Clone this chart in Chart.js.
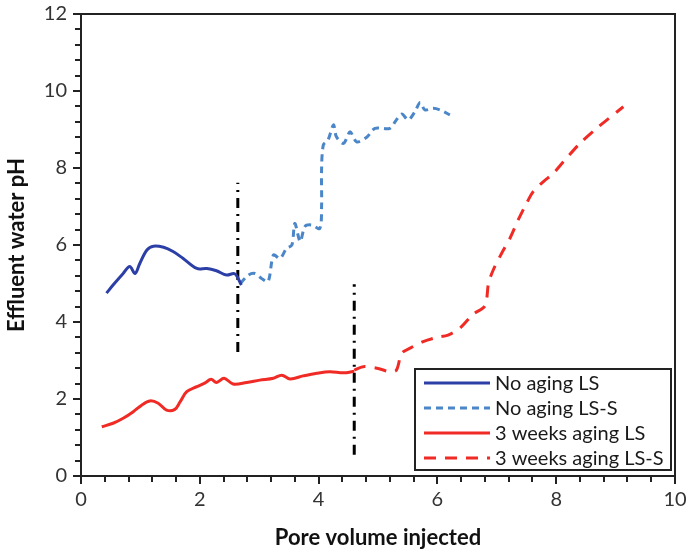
<!DOCTYPE html>
<html>
<head>
<meta charset="utf-8">
<script src="https://cdn.jsdelivr.net/npm/chart.js@4.4.1/dist/chart.umd.min.js"></script>
<style>
  html, body { margin: 0; padding: 0; background: #fff; }
  #wrap { width: 689px; height: 555px; position: relative; }
</style>
</head>
<body>
<div id="wrap"><canvas id="c" width="689" height="555"></canvas></div>
<script>
// ---- Data ----
const seriesLabels = ["No aging LS", "No aging LS-S", "3 weeks aging LS", "3 weeks aging LS-S"];

const noAgingLS_x = [0.43, 0.54, 0.71, 0.82, 0.91, 0.99, 1.11, 1.22, 1.39, 1.55, 1.72, 1.95, 2.12, 2.28, 2.45, 2.59, 2.70];
const noAgingLS_y = [4.75, 4.96, 5.26, 5.44, 5.26, 5.52, 5.87, 5.97, 5.94, 5.83, 5.65, 5.39, 5.39, 5.33, 5.22, 5.25, 4.96];

const noAgingLSS_x = [2.68, 2.82, 2.93, 3.04, 3.15, 3.24, 3.35, 3.46, 3.55, 3.60, 3.69, 3.77, 3.88, 4.02, 4.05, 4.05, 4.08, 4.16, 4.25, 4.30, 4.42, 4.53, 4.64, 4.81, 4.95, 5.20, 5.31, 5.40, 5.51, 5.62, 5.71, 5.79, 5.93, 6.04, 6.21];
const noAgingLSS_y = [5.00, 5.22, 5.26, 5.13, 5.05, 5.74, 5.65, 5.91, 6.00, 6.56, 6.09, 6.48, 6.52, 6.43, 7.00, 7.95, 8.60, 8.73, 9.12, 8.81, 8.64, 8.94, 8.68, 8.80, 9.03, 9.03, 9.25, 9.40, 9.25, 9.46, 9.70, 9.51, 9.55, 9.51, 9.38];

const weeks3LS_x = [0.35, 0.54, 0.71, 0.88, 1.02, 1.16, 1.30, 1.44, 1.58, 1.67, 1.78, 1.95, 2.09, 2.19, 2.28, 2.41, 2.56, 2.79, 3.01, 3.24, 3.38, 3.52, 3.74, 3.97, 4.19, 4.42, 4.60];
const weeks3LS_y = [1.28, 1.37, 1.50, 1.67, 1.84, 1.95, 1.89, 1.71, 1.73, 1.93, 2.19, 2.32, 2.42, 2.51, 2.43, 2.54, 2.39, 2.43, 2.49, 2.54, 2.62, 2.52, 2.60, 2.67, 2.71, 2.68, 2.72];

const weeks3LSS_x = [4.60, 4.75, 4.98, 5.20, 5.31, 5.40, 5.54, 5.76, 5.99, 6.18, 6.38, 6.60, 6.80, 6.86, 6.94, 7.08, 7.22, 7.36, 7.50, 7.61, 7.78, 7.95, 8.12, 8.40, 8.68, 9.13];
const weeks3LSS_y = [2.75, 2.84, 2.80, 2.71, 2.75, 3.19, 3.32, 3.49, 3.60, 3.66, 3.84, 4.20, 4.42, 5.00, 5.35, 5.78, 6.17, 6.65, 7.08, 7.38, 7.64, 7.86, 8.16, 8.64, 9.03, 9.59];

// Vertical dash-dot marker lines
const marker1_x = [2.64, 2.64];
const marker1_y = [3.22, 7.62];
const marker2_x = [4.60, 4.60];
const marker2_y = [0.55, 4.98];

// Axis ticks
const xMajorTicks = [0, 2, 4, 6, 8, 10];
const yMajorTicks = [0, 2, 4, 6, 8, 10, 12];
const minorStep = 0.4;

function pts(xs, ys) { return xs.map((x, i) => ({ x: x, y: ys[i] })); }

const FONT = "Lato, 'Open Sans', sans-serif";

const datasets = [
  { label: seriesLabels[0], data: pts(noAgingLS_x, noAgingLS_y), borderColor: '#2c3fa6', borderWidth: 3, tension: 0.35, pointRadius: 0, borderDash: [] , inLegend: true},
  { label: seriesLabels[1], data: pts(noAgingLSS_x, noAgingLSS_y), borderColor: '#4a86c8', borderWidth: 3, tension: 0.3, pointRadius: 0, borderDash: [7, 5], inLegend: true },
  { label: seriesLabels[2], data: pts(weeks3LS_x, weeks3LS_y), borderColor: '#f02a24', borderWidth: 3, tension: 0.35, pointRadius: 0, borderDash: [], inLegend: true },
  { label: seriesLabels[3], data: pts(weeks3LSS_x, weeks3LSS_y), borderColor: '#f02a24', borderWidth: 3, tension: 0.3, pointRadius: 0, borderDash: [12, 9], inLegend: true },
  { label: 'm1', data: pts(marker1_x, marker1_y), borderColor: '#000', borderWidth: 3, pointRadius: 0, borderDash: [10, 6, 2, 6], inLegend: false },
  { label: 'm2', data: pts(marker2_x, marker2_y), borderColor: '#000', borderWidth: 3, pointRadius: 0, borderDash: [10, 6, 2, 6], inLegend: false }
];

const framePlugin = {
  id: 'frame',
  afterDraw(chart) {
    const { ctx, chartArea: a, scales } = chart;
    ctx.save();
    ctx.strokeStyle = '#222';
    ctx.lineWidth = 2;
    ctx.strokeRect(a.left, a.top, a.right - a.left, a.bottom - a.top);
    const xs = scales.x, ys = scales.y;
    for (let i = 0; i <= Math.round((xs.max - xs.min) / minorStep); i++) {
      const v = xs.min + i * minorStep;
      const px = Math.round(xs.getPixelForValue(v));
      const major = xMajorTicks.some(t => Math.abs(t - v) < 1e-6);
      ctx.beginPath();
      ctx.moveTo(px, a.bottom);
      ctx.lineTo(px, a.bottom + (major ? 8 : 6));
      ctx.stroke();
    }
    for (let i = 0; i <= Math.round((ys.max - ys.min) / minorStep); i++) {
      const v = ys.min + i * minorStep;
      const py = Math.round(ys.getPixelForValue(v));
      const major = yMajorTicks.some(t => Math.abs(t - v) < 1e-6);
      ctx.beginPath();
      ctx.moveTo(a.left, py);
      ctx.lineTo(a.left - (major ? 8 : 6), py);
      ctx.stroke();
    }
    // legend box
    const bx = 415, by = 369, bw = 256, bh = 101;
    ctx.fillStyle = '#fff';
    ctx.fillRect(bx, by, bw, bh);
    ctx.strokeStyle = '#222';
    ctx.lineWidth = 2;
    ctx.strokeRect(bx, by, bw, bh);
    const items = chart.data.datasets.filter(d => d.inLegend);
    ctx.font = "20px " + FONT;
    ctx.textBaseline = 'middle';
    ctx.textAlign = 'left';
    items.forEach((d, i) => {
      const yy = by + 14 + i * 25;
      ctx.beginPath();
      ctx.setLineDash(d.borderDash || []);
      ctx.strokeStyle = d.borderColor;
      ctx.lineWidth = 3;
      ctx.moveTo(424, yy);
      ctx.lineTo(490, yy);
      ctx.stroke();
      ctx.setLineDash([]);
      ctx.fillStyle = '#1a1a1a';
      ctx.fillText(d.label, 495, yy + 1);
    });
    ctx.restore();
  }
};

new Chart(document.getElementById('c'), {
  type: 'line',
  data: { datasets: datasets },
  plugins: [framePlugin],
  options: {
    responsive: false,
    animation: false,
    layout: { padding: { left: 0, right: 14, top: 14, bottom: 0 } },
    plugins: { legend: { display: false }, tooltip: { enabled: false } },
    scales: {
      x: {
        type: 'linear', min: 0, max: 10,
        afterBuildTicks(s) { s.ticks = xMajorTicks.map(v => ({ value: v })); },
        afterFit(s) { s.height = 79; s.paddingLeft = 0; s.paddingRight = 0; },
        grid: { drawOnChartArea: false, drawTicks: false },
        border: { display: true, color: '#222', width: 2 },
        ticks: { padding: 12, color: '#333', font: { family: FONT, size: 20 }, maxRotation: 0 },
        title: { display: true, text: 'Pore volume injected', color: '#111', font: { family: FONT, size: 22, weight: 'bold' }, padding: { top: 6 } }
      },
      y: {
        type: 'linear', min: 0, max: 12,
        afterBuildTicks(s) { s.ticks = yMajorTicks.map(v => ({ value: v })); },
        afterFit(s) { s.width = 81; s.paddingTop = 0; s.paddingBottom = 0; },
        grid: { drawOnChartArea: false, drawTicks: false },
        border: { display: true, color: '#222', width: 2 },
        ticks: { padding: 14, color: '#333', font: { family: FONT, size: 20 } },
        title: { display: true, text: 'Effluent water pH', color: '#111', font: { family: FONT, size: 22, weight: 'bold' }, padding: { bottom: 4 } }
      }
    }
  }
});
</script>
</body>
</html>
